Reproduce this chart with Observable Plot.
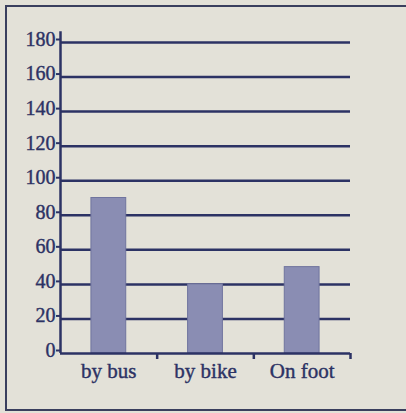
<!DOCTYPE html>
<html>
<head>
<meta charset="utf-8">
<script src="https://cdn.jsdelivr.net/npm/d3@7"></script>
<script src="https://cdn.jsdelivr.net/npm/@observablehq/plot@0.6"></script>
<style>
  html, body { margin: 0; padding: 0; background: #e3e1d8; }
  #wrap { position: relative; width: 406px; height: 413px; overflow: hidden; }
  #frame { position: absolute; left: 5px; top: 5px; width: 420px; height: 402px; border: 2px solid #3a3f5e; pointer-events: none; }
</style>
</head>
<body>
<div id="wrap"><div id="frame"></div></div>
<script>
const categories = ["by bus", "by bike", "On foot"];
const values = [90, 40, 50];
const yTicks = [0, 20, 40, 60, 80, 100, 120, 140, 160, 180];

const ink = "#2c3264";
const barFill = "#8a8db3";
const halfBar = 0.18;

const data = categories.map((c, i) => ({category: c, index: i, value: values[i]}));
const boundaries = d3.range(categories.length + 1);
const centers = categories.map((c, i) => i + 0.5);
const yMax = d3.max(yTicks);

const chart = Plot.plot({
  width: 406,
  height: 413,
  marginLeft: 60,
  marginRight: 56,
  marginTop: 42,
  marginBottom: 60,
  style: {background: "transparent", fontFamily: "'Liberation Serif', 'Times New Roman', serif", color: ink},
  x: {type: "linear", domain: [0, categories.length], label: null},
  y: {domain: [0, yMax], label: null},
  marks: [
    Plot.ruleY(yTicks.filter(d => d > 0), {stroke: ink, strokeWidth: 2.5}),
    Plot.rectY(data, {
      x1: d => d.index + 0.5 - halfBar,
      x2: d => d.index + 0.5 + halfBar,
      y1: 0,
      y2: "value",
      fill: barFill,
      stroke: "#70749e",
      strokeWidth: 1
    }),
    Plot.ruleY([0], {stroke: ink, strokeWidth: 2.5}),
    Plot.ruleX([0], {y1: 0, y2: yMax + 8.5, stroke: ink, strokeWidth: 2.5, insetBottom: -4}),
    Plot.axisX({ticks: boundaries.slice(1), tickSize: 6, tickFormat: () => "", stroke: ink, strokeWidth: 2.5, tickPadding: 0, label: null}),
    Plot.axisX({ticks: centers, tickSize: 0, tickFormat: t => categories[Math.round(t - 0.5)], fontSize: 21, tickPadding: 10, fill: ink, textStroke: ink, textStrokeWidth: 0.4, label: null}),
    Plot.axisY({ticks: yTicks, tickSize: 4, tickPadding: 1, fontSize: 20, dy: -3, stroke: ink, strokeWidth: 2, fill: ink, textStroke: ink, textStrokeWidth: 0.4, tickFormat: d => String(d), label: null})
  ]
});
document.getElementById("wrap").prepend(chart);
</script>
</body>
</html>
